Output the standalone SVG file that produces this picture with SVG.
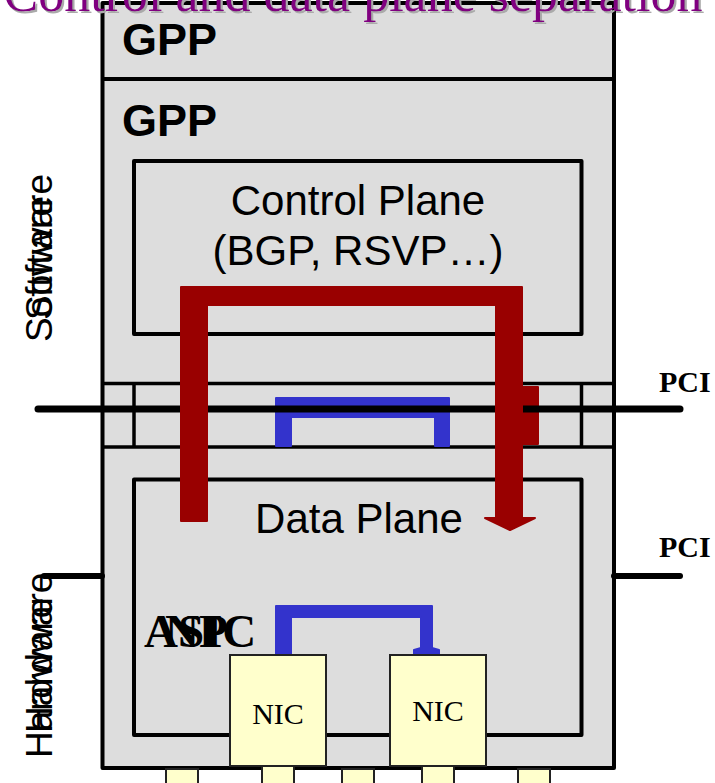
<svg xmlns="http://www.w3.org/2000/svg" width="715" height="783" viewBox="0 0 715 783">
<style>
.box{fill:#dddddd;stroke:#000;stroke-width:4;stroke-linejoin:round}
.ln{stroke:#000;stroke-width:3.5;fill:none}
.pci{stroke:#000;stroke-width:7;stroke-linecap:round;fill:none}
.red{fill:#990000;stroke:#990000;stroke-width:2;stroke-linejoin:round}
.blue{fill:#3333cc;stroke:#3333cc;stroke-width:2;stroke-linejoin:round}
.nic{fill:#ffffcc;stroke:#222;stroke-width:2}
.sans{font-family:"Liberation Sans",Arial,sans-serif;fill:#000}
.serif{font-family:"Liberation Serif","Times New Roman",serif;fill:#000}
.gpp{font-size:45px;font-weight:bold}
.big{font-size:42px}
.side{font-size:37px}
.pcit{font-size:30px;font-weight:bold}
.nict{font-size:30px}
.asic{font-size:47px;font-weight:bold}
</style>
<defs>
<filter id="shadow" x="-5%" y="-50%" width="110%" height="200%">
<feFlood flood-color="#aaaaaa" result="c"/>
<feComposite in="c" in2="SourceAlpha" operator="in" result="s"/>
<feOffset in="s" dx="2" dy="2" result="o"/>
<feMerge><feMergeNode in="o"/><feMergeNode in="SourceGraphic"/></feMerge>
</filter>
</defs>
<g id="chassis">
<rect class="box" x="102.5" y="3" width="511.5" height="765"/>
<line class="ln" x1="102" y1="79" x2="614" y2="79" style="stroke-width:4"/>
<text class="sans gpp" x="122" y="55">GPP</text>
<text class="sans gpp" x="122" y="136">GPP</text>
</g>
<g id="control-plane">
<rect class="box" x="134" y="161" width="447.5" height="173"/>
<text class="sans big" x="358" y="215" text-anchor="middle">Control Plane</text>
<text class="sans big" x="358" y="265" text-anchor="middle">(BGP, RSVP…)</text>
</g>
<g id="bus">
<line class="ln" x1="102" y1="383.5" x2="614" y2="383.5"/>
<line class="ln" x1="102" y1="447" x2="614" y2="447"/>
<line class="ln" x1="134" y1="383.5" x2="134" y2="447"/>
<line class="ln" x1="581.5" y1="383.5" x2="581.5" y2="447"/>
</g>
<g id="data-plane">
<rect class="box" x="134" y="479.5" width="447.5" height="255.5"/>
<text class="sans big" x="359" y="533" text-anchor="middle">Data Plane</text>
<text class="serif asic" x="144" y="647">ASIC</text>
<text class="serif asic" x="165" y="647">NP</text>
</g>
<g id="connectors">
<path class="blue" d="M276,446 L276,398 L449,398 L449,446 L435,446 L435,417 L291,417 L291,446 Z"/>
<path class="blue" d="M276,655 L276,606 L432,606 L432,648 L439,650 L439,655 L414,655 L414,650 L421,648 L421,617 L291,617 L291,655 Z"/>
<rect class="red" x="523" y="387" width="15" height="57"/>
<line class="pci" x1="38" y1="409" x2="680" y2="409"/>
<line class="pci" x1="44" y1="576" x2="102" y2="576" style="stroke-width:6"/>
<line class="pci" x1="614" y1="576" x2="680" y2="576" style="stroke-width:6"/>
<path class="red" d="M181,521 L181,287 L522,287 L522,518 L535,518 L510,530 L485,518 L496,518 L496,305 L207,305 L207,521 Z"/>
</g>
<g id="nic1">
<rect class="nic" x="230" y="655" width="96" height="111"/>
<text class="serif nict" x="278" y="724" text-anchor="middle">NIC</text>
</g>
<g id="nic2">
<rect class="nic" x="390" y="655" width="96" height="111"/>
<text class="serif nict" x="438" y="721" text-anchor="middle">NIC</text>
</g>
<g id="ports">
<rect class="nic" x="166" y="769" width="32" height="20"/>
<rect class="nic" x="262" y="766" width="32" height="22"/>
<rect class="nic" x="342" y="769" width="32" height="20"/>
<rect class="nic" x="422" y="766" width="32" height="22"/>
<rect class="nic" x="518" y="769" width="32" height="20"/>
</g>
<g id="labels">
<text class="serif pcit" x="659" y="392">PCI</text>
<text class="serif pcit" x="659" y="557">PCI</text>
<text class="sans side" transform="translate(52,342) rotate(-90)">Software</text>
<text class="sans side" transform="translate(52,320) rotate(-90)">Software</text>
<text class="sans side" transform="translate(52,758) rotate(-90)">Hardware</text>
<text class="sans side" transform="translate(52,733) rotate(-90)">Hardware</text>
</g>
<g id="title">
<text class="serif" x="353" y="11" text-anchor="middle" style="font-size:52px;fill:#800080" filter="url(#shadow)">Control and data plane separation</text>
</g>
</svg>
